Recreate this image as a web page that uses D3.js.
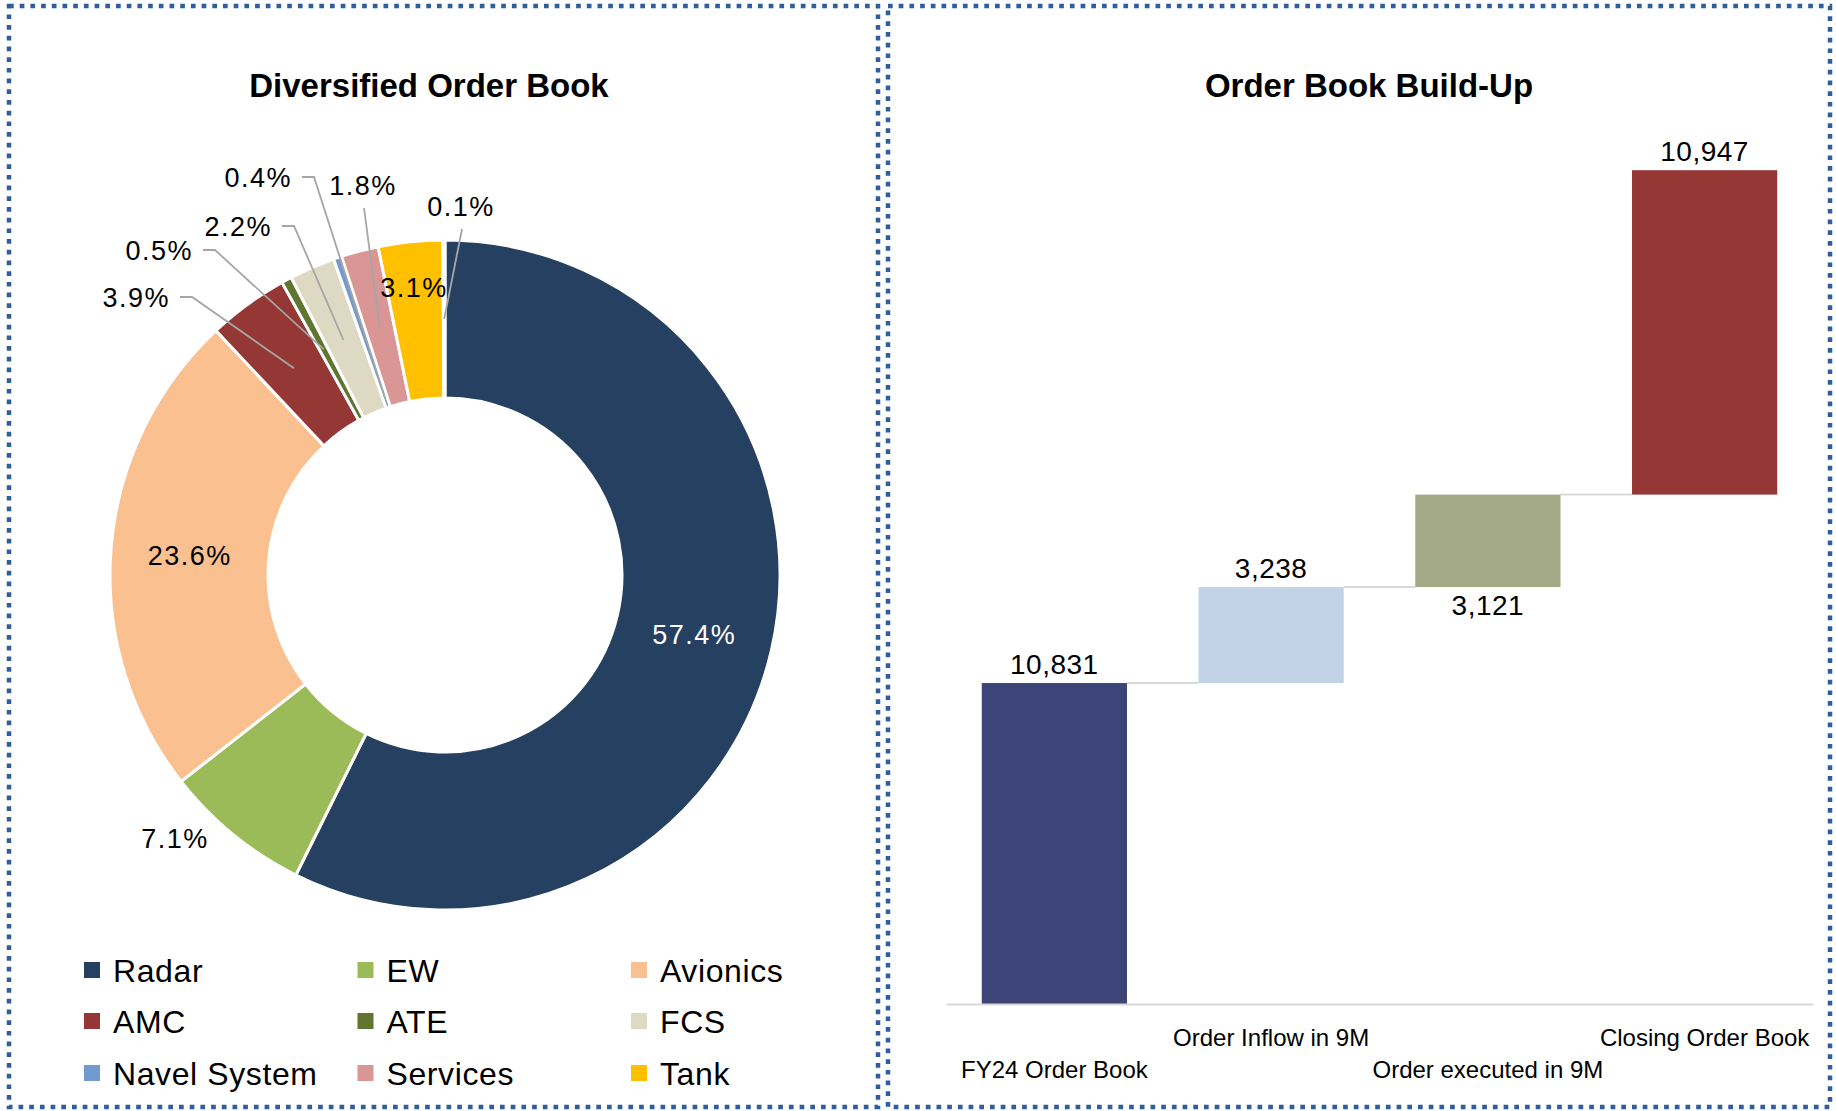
<!DOCTYPE html>
<html>
<head>
<meta charset="utf-8">
<script src="https://cdn.jsdelivr.net/npm/d3@7"></script>
<style>
  body { margin: 0; background: #fff; }
  svg { display: block; font-family: "Liberation Sans", Arial, sans-serif; }
</style>
</head>
<body>
<div id="viz"></div>
<script>
var width = 1836;
var height = 1111;

/* Donut data */
var segments = ["Radar", "EW", "Avionics", "AMC", "ATE", "FCS", "Navel System", "Services", "Tank", "Others"];
var shares = [57.4, 7.1, 23.6, 3.9, 0.5, 2.2, 0.4, 1.8, 3.1, 0.1];
var segmentColors = ["#264061", "#9BBB59", "#FAC090", "#953735", "#5F7530", "#DDD9C3", "#729ACF", "#D99694", "#FFC000", "#4BACC6"];
var legendCount = 9;

/* Waterfall data */
var steps = ["FY24 Order Book", "Order Inflow in 9M", "Order executed in 9M", "Closing Order Book"];
var stepValues = [10831, 3238, 3121, 10947];
var stepColors = ["#3D4578", "#C2D3E8", "#A4AA86", "#953735"];

var frameColor = "#2F5E9C";
var leaderColor = "#A6A6A6";
var gridColor = "#D9D9D9";

var svg = d3
  .select("#viz")
  .append("svg")
  .attr("width", width)
  .attr("height", height);

/* Dotted frames */
var panels = [
  { x: 9, y: 6, w: 869, h: 1101 },
  { x: 888, y: 6, w: 942, h: 1101 }
];
svg
  .selectAll(".frame")
  .data(panels)
  .enter()
  .append("rect")
  .attr("class", "frame")
  .attr("x", d => d.x)
  .attr("y", d => d.y)
  .attr("width", d => d.w)
  .attr("height", d => d.h)
  .attr("fill", "none")
  .attr("stroke", frameColor)
  .attr("stroke-width", 4.5)
  .attr("stroke-dasharray", "4.7 6");

/* Titles */
var titles = [
  { text: "Diversified Order Book", x: 429 },
  { text: "Order Book Build-Up", x: 1369 }
];
svg
  .selectAll(".title")
  .data(titles)
  .enter()
  .append("text")
  .attr("class", "title")
  .attr("x", d => d.x)
  .attr("y", 97)
  .attr("text-anchor", "middle")
  .style("font-size", "33px")
  .style("font-weight", "bold")
  .text(d => d.text);

/* ---------- Donut ---------- */
var cx = 445;
var cy = 575;
var outerR = 335;
var innerR = 177;

var pie = d3.pie().sort(null).value(d => d);
var arcs = pie(shares);
var arc = d3.arc().innerRadius(innerR).outerRadius(outerR);

var donut = svg.append("g").attr("transform", `translate(${cx}, ${cy})`);

donut
  .selectAll(".slice")
  .data(arcs)
  .enter()
  .append("path")
  .attr("class", "slice")
  .attr("d", arc)
  .attr("fill", (d, i) => segmentColors[i])
  .attr("stroke", "#fff")
  .attr("stroke-width", 3);

// label placement, as Excel had them (relative to the donut centre)
var labelLayout = [
  { centroid: true, fill: "#fff" },
  { dx: -270, dy: 273, anchor: "middle" },
  { centroid: true },
  { dx: -275, dy: -268, anchor: "end", leader: "side" },
  { dx: -252, dy: -315, anchor: "end", leader: "side" },
  { dx: -173, dy: -339, anchor: "end", leader: "side" },
  { dx: -153, dy: -388, anchor: "end", leader: "side", leaderR: 186 },
  { dx: -82, dy: -380, anchor: "middle", leader: "below" },
  { dx: -31, dy: -278, anchor: "middle" },
  { dx: 16, dy: -359, anchor: "middle", leader: "below" }
];

function leaderEnd(d, r) {
  var a = (d.startAngle + d.endAngle) / 2;
  return [Math.sin(a) * r, -Math.cos(a) * r];
}

var lineGen = d3.line();
var midR = (innerR + outerR) / 2;

donut
  .selectAll(".leader")
  .data(arcs.filter((d, i) => labelLayout[i].leader))
  .enter()
  .append("path")
  .attr("class", "leader")
  .attr("d", function(d) {
    var L = labelLayout[d.index];
    var end = leaderEnd(d, L.leaderR || midR);
    var pts;
    if (L.leader == "side") {
      pts = [[L.dx + 10, L.dy - 10], [L.dx + 22, L.dy - 10], end];
    } else {
      pts = [[L.dx + 1, L.dy + 13], end];
    }
    return lineGen(pts);
  })
  .attr("fill", "none")
  .attr("stroke", leaderColor)
  .attr("stroke-width", 1.8);

donut
  .selectAll(".pct")
  .data(arcs)
  .enter()
  .append("text")
  .attr("class", "pct")
  .attr("x", d => (labelLayout[d.index].centroid ? arc.centroid(d)[0] : labelLayout[d.index].dx))
  .attr("y", d => (labelLayout[d.index].centroid ? arc.centroid(d)[1] + 10 : labelLayout[d.index].dy))
  .attr("text-anchor", d => labelLayout[d.index].anchor || "middle")
  .attr("fill", d => labelLayout[d.index].fill || "#000")
  .style("font-size", "27px")
  .style("letter-spacing", "1.5px")
  .text(d => d.data.toFixed(1) + "%");

/* Legend */
var legendCols = [84, 357.5, 631];
var legendRows = [970, 1021, 1073];

var legend = svg
  .selectAll(".legend")
  .data(segments.slice(0, legendCount))
  .enter()
  .append("g")
  .attr("class", "legend")
  .attr("transform", (d, i) => `translate(${legendCols[i % 3]}, ${legendRows[Math.floor(i / 3)]})`);

legend
  .append("rect")
  .attr("x", 0)
  .attr("y", -8)
  .attr("width", 16)
  .attr("height", 16)
  .attr("fill", (d, i) => segmentColors[i]);

legend
  .append("text")
  .attr("x", 29)
  .attr("y", 12)
  .style("font-size", "32px")
  .style("letter-spacing", "0.6px")
  .text(d => d);

/* ---------- Waterfall ---------- */
var xScale = d3
  .scaleBand()
  .domain(steps)
  .range([946, 1813])
  .paddingInner(0.33)
  .paddingOuter(0.165);

var yScale = d3
  .scaleLinear()
  .domain([0, 30000])
  .range([1004, 115]);

var running = 0;
var bars = stepValues.map(function(v, i) {
  var start = running;
  running += v;
  return { name: steps[i], value: v, start: start, end: running };
});

var fmt = d3.format(",");
var wf = svg.append("g").attr("class", "waterfall");

// connectors
wf.selectAll(".connector")
  .data(bars.slice(0, -1))
  .enter()
  .append("line")
  .attr("class", "connector")
  .attr("x1", d => xScale(d.name) + xScale.bandwidth())
  .attr("x2", (d, i) => xScale(bars[i + 1].name))
  .attr("y1", d => yScale(d.end))
  .attr("y2", d => yScale(d.end))
  .attr("stroke", gridColor)
  .attr("stroke-width", 2);

wf.selectAll(".bar")
  .data(bars)
  .enter()
  .append("rect")
  .attr("class", "bar")
  .attr("x", d => xScale(d.name))
  .attr("width", xScale.bandwidth())
  .attr("y", d => yScale(d.end))
  .attr("height", d => yScale(d.start) - yScale(d.end))
  .attr("fill", (d, i) => stepColors[i]);

wf.selectAll(".value")
  .data(bars)
  .enter()
  .append("text")
  .attr("class", "value")
  .attr("x", d => xScale(d.name) + xScale.bandwidth() / 2)
  .attr("y", (d, i) => (i == 2 ? yScale(d.start) + 28 : yScale(d.end) - 9))
  .attr("text-anchor", "middle")
  .style("font-size", "28px")
  .style("letter-spacing", "0.5px")
  .text(d => fmt(d.value));

/* Category axis */
var xAxis = d3.axisBottom(xScale).tickSize(0).tickSizeOuter(0);

var axisG = svg
  .append("g")
  .attr("class", "x axis")
  .attr("transform", `translate(0, ${yScale(0)})`)
  .call(xAxis);

axisG.select(".domain").attr("stroke", gridColor).attr("stroke-width", 2);
axisG
  .selectAll(".tick text")
  .attr("y", (d, i) => (i % 2 == 0 ? 74 : 42))
  .attr("dy", 0)
  .attr("fill", "#000")
  .style("font-size", "24px")
  .style("font-family", "Liberation Sans, Arial, sans-serif");
</script>
</body>
</html>
